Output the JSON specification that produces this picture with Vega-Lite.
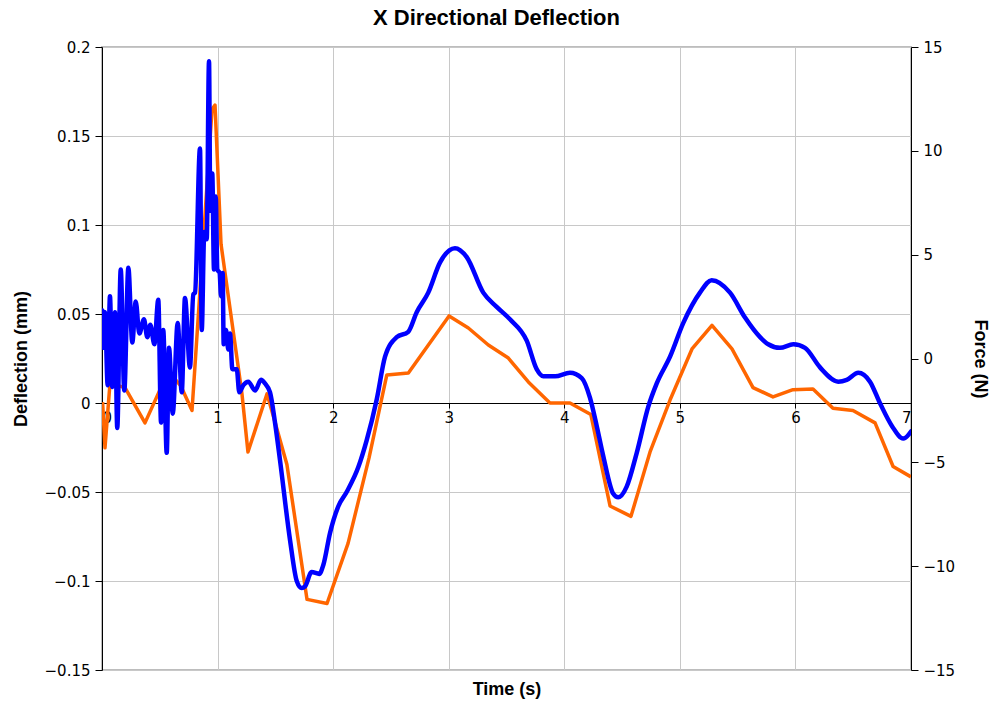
{
  "$schema": "https://vega.github.io/schema/vega-lite/v6.json",
  "width": 809,
  "height": 623,
  "autosize": "none",
  "padding": {"left": 102, "top": 47, "right": 84, "bottom": 35},
  "background": "white",
  "config": {
    "view": {"stroke": "#bdbdbd", "strokeWidth": 2},
    "axis": {"labelFont": "DejaVu Sans", "labelFontSize": 15, "labelColor": "black", "titleFont": "Liberation Sans", "titleFontSize": 18, "titleFontWeight": "bold", "titleColor": "black", "gridColor": "#c8c8c8", "gridWidth": 1, "domainColor": "black", "tickColor": "black"}
  },
  "title": {"text": "X Directional Deflection", "font": "Liberation Sans", "fontSize": 22, "fontWeight": "bold", "color": "black", "dx": -10, "offset": 10},
  "datasets": {
    "force": [
      {"t": 0.005, "f": -2.1}, {"t": 0.026, "f": -4.3}, {"t": 0.069, "f": -1.2}, {"t": 0.199, "f": -1.4},
      {"t": 0.372, "f": -3.1}, {"t": 0.502, "f": -1.5}, {"t": 0.6, "f": -0.8}, {"t": 0.68, "f": -1.3},
      {"t": 0.779, "f": -2.5}, {"t": 0.952, "f": 12.0}, {"t": 0.978, "f": 12.2}, {"t": 1.03, "f": 5.5},
      {"t": 1.211, "f": -1.7}, {"t": 1.263, "f": -4.5}, {"t": 1.428, "f": -1.7}, {"t": 1.6, "f": -5.1},
      {"t": 1.774, "f": -11.6}, {"t": 1.947, "f": -11.8}, {"t": 2.129, "f": -8.9}, {"t": 2.31, "f": -4.8},
      {"t": 2.464, "f": -0.8}, {"t": 2.651, "f": -0.7}, {"t": 3.003, "f": 2.05}, {"t": 3.17, "f": 1.47},
      {"t": 3.343, "f": 0.65}, {"t": 3.516, "f": 0.02}, {"t": 3.689, "f": -1.13}, {"t": 3.876, "f": -2.14},
      {"t": 4.049, "f": -2.14}, {"t": 4.23, "f": -2.7}, {"t": 4.396, "f": -7.1}, {"t": 4.577, "f": -7.6},
      {"t": 4.742, "f": -4.5}, {"t": 4.915, "f": -2.0}, {"t": 5.105, "f": 0.46}, {"t": 5.278, "f": 1.6},
      {"t": 5.451, "f": 0.46}, {"t": 5.633, "f": -1.4}, {"t": 5.806, "f": -1.85}, {"t": 5.979, "f": -1.5},
      {"t": 6.152, "f": -1.47}, {"t": 6.325, "f": -2.4}, {"t": 6.498, "f": -2.5}, {"t": 6.689, "f": -3.1},
      {"t": 6.845, "f": -5.2}, {"t": 7.0, "f": -5.7}
    ],
    "defl": [
      {"t": 0.003, "d": 0.052}, {"t": 0.011, "d": 0.031}, {"t": 0.026, "d": 0.051}, {"t": 0.049, "d": 0.010},
      {"t": 0.069, "d": 0.060}, {"t": 0.089, "d": 0.009}, {"t": 0.112, "d": 0.051}, {"t": 0.132, "d": -0.014},
      {"t": 0.162, "d": 0.075}, {"t": 0.193, "d": 0.007}, {"t": 0.228, "d": 0.076}, {"t": 0.262, "d": 0.034},
      {"t": 0.292, "d": 0.057}, {"t": 0.323, "d": 0.039}, {"t": 0.363, "d": 0.047}, {"t": 0.392, "d": 0.037},
      {"t": 0.418, "d": 0.044}, {"t": 0.453, "d": 0.033}, {"t": 0.487, "d": 0.058}, {"t": 0.511, "d": -0.011},
      {"t": 0.530, "d": 0.041}, {"t": 0.560, "d": -0.028}, {"t": 0.580, "d": 0.031}, {"t": 0.612, "d": -0.006},
      {"t": 0.655, "d": 0.045}, {"t": 0.690, "d": 0.006}, {"t": 0.718, "d": 0.059}, {"t": 0.761, "d": 0.020},
      {"t": 0.790, "d": 0.061}, {"t": 0.805, "d": 0.062}, {"t": 0.848, "d": 0.143}, {"t": 0.863, "d": 0.041},
      {"t": 0.885, "d": 0.096}, {"t": 0.906, "d": 0.092}, {"t": 0.926, "d": 0.192}, {"t": 0.937, "d": 0.108},
      {"t": 0.954, "d": 0.129}, {"t": 0.969, "d": 0.075}, {"t": 0.984, "d": 0.116}, {"t": 0.998, "d": 0.075},
      {"t": 1.018, "d": 0.073}, {"t": 1.030, "d": 0.060}, {"t": 1.044, "d": 0.073}, {"t": 1.053, "d": 0.033},
      {"t": 1.073, "d": 0.041}, {"t": 1.093, "d": 0.030}, {"t": 1.108, "d": 0.039}, {"t": 1.128, "d": 0.019},
      {"t": 1.166, "d": 0.019}, {"t": 1.188, "d": 0.006}, {"t": 1.223, "d": 0.010}, {"t": 1.266, "d": 0.012},
      {"t": 1.324, "d": 0.007}, {"t": 1.376, "d": 0.013}, {"t": 1.410, "d": 0.011}, {"t": 1.454, "d": 0.006},
      {"t": 1.497, "d": -0.011}, {"t": 1.540, "d": -0.032}, {"t": 1.627, "d": -0.077}, {"t": 1.685, "d": -0.100},
      {"t": 1.728, "d": -0.104}, {"t": 1.757, "d": -0.103}, {"t": 1.814, "d": -0.095}, {"t": 1.880, "d": -0.096},
      {"t": 1.915, "d": -0.091}, {"t": 1.973, "d": -0.073}, {"t": 2.045, "d": -0.058}, {"t": 2.117, "d": -0.050},
      {"t": 2.218, "d": -0.036}, {"t": 2.290, "d": -0.021}, {"t": 2.377, "d": 0.002}, {"t": 2.449, "d": 0.026},
      {"t": 2.550, "d": 0.037}, {"t": 2.650, "d": 0.040}, {"t": 2.723, "d": 0.051}, {"t": 2.823, "d": 0.062},
      {"t": 2.925, "d": 0.079}, {"t": 3.054, "d": 0.087}, {"t": 3.156, "d": 0.082}, {"t": 3.299, "d": 0.062},
      {"t": 3.415, "d": 0.054}, {"t": 3.530, "d": 0.047}, {"t": 3.675, "d": 0.035}, {"t": 3.761, "d": 0.019},
      {"t": 3.818, "d": 0.015}, {"t": 3.920, "d": 0.015}, {"t": 4.049, "d": 0.017}, {"t": 4.151, "d": 0.014},
      {"t": 4.222, "d": 0.003}, {"t": 4.281, "d": -0.013}, {"t": 4.338, "d": -0.030}, {"t": 4.424, "d": -0.051},
      {"t": 4.467, "d": -0.053}, {"t": 4.540, "d": -0.047}, {"t": 4.627, "d": -0.028}, {"t": 4.727, "d": -0.002},
      {"t": 4.800, "d": 0.011}, {"t": 4.915, "d": 0.026}, {"t": 5.030, "d": 0.045}, {"t": 5.174, "d": 0.062},
      {"t": 5.275, "d": 0.069}, {"t": 5.434, "d": 0.062}, {"t": 5.564, "d": 0.048}, {"t": 5.694, "d": 0.037},
      {"t": 5.765, "d": 0.033}, {"t": 5.866, "d": 0.031}, {"t": 5.982, "d": 0.033}, {"t": 6.083, "d": 0.031},
      {"t": 6.213, "d": 0.020}, {"t": 6.371, "d": 0.012}, {"t": 6.444, "d": 0.013}, {"t": 6.544, "d": 0.017},
      {"t": 6.645, "d": 0.012}, {"t": 6.731, "d": 0.000}, {"t": 6.836, "d": -0.013}, {"t": 6.933, "d": -0.020},
      {"t": 7.0, "d": -0.016}
    ]
  },
  "encoding": {
    "x": {
      "field": "t", "type": "quantitative",
      "scale": {"domain": [0, 7], "nice": false, "zero": false},
      "axis": {"title": "Time (s)", "values": [0, 1, 2, 3, 4, 5, 6, 7], "format": "d", "offset": -267, "tickSize": 5, "labelPadding": 2, "grid": true, "titleY": 286, "titleBaseline": "middle", "domainWidth": 1}
    }
  },
  "layer": [
    {
      "data": {"name": "force"},
      "mark": {"type": "line", "color": "#ff6600", "strokeWidth": 3.5, "clip": true, "strokeJoin": "round"},
      "encoding": {
        "y": {
          "field": "f", "type": "quantitative",
          "scale": {"domain": [-15, 15], "nice": false, "zero": false},
          "axis": {"orient": "right", "title": "Force (N)", "values": [-15, -10, -5, 0, 5, 10, 15], "grid": false, "tickSize": 7, "labelPadding": 5, "titlePadding": 16}
        }
      }
    },
    {
      "data": {"name": "defl"},
      "mark": {"type": "line", "color": "#0000ff", "strokeWidth": 4.5, "clip": true, "interpolate": "monotone", "strokeJoin": "round", "strokeCap": "round"},
      "encoding": {
        "y": {
          "field": "d", "type": "quantitative",
          "scale": {"domain": [-0.15, 0.2], "nice": false, "zero": false},
          "axis": {"orient": "left", "title": "Deflection (mm)", "values": [-0.15, -0.1, -0.05, 0, 0.05, 0.1, 0.15, 0.2], "format": ".2~f", "grid": true, "tickSize": 7, "labelPadding": 5, "titlePadding": 14}
        }
      }
    }
  ],
  "resolve": {"scale": {"y": "independent"}}
}
